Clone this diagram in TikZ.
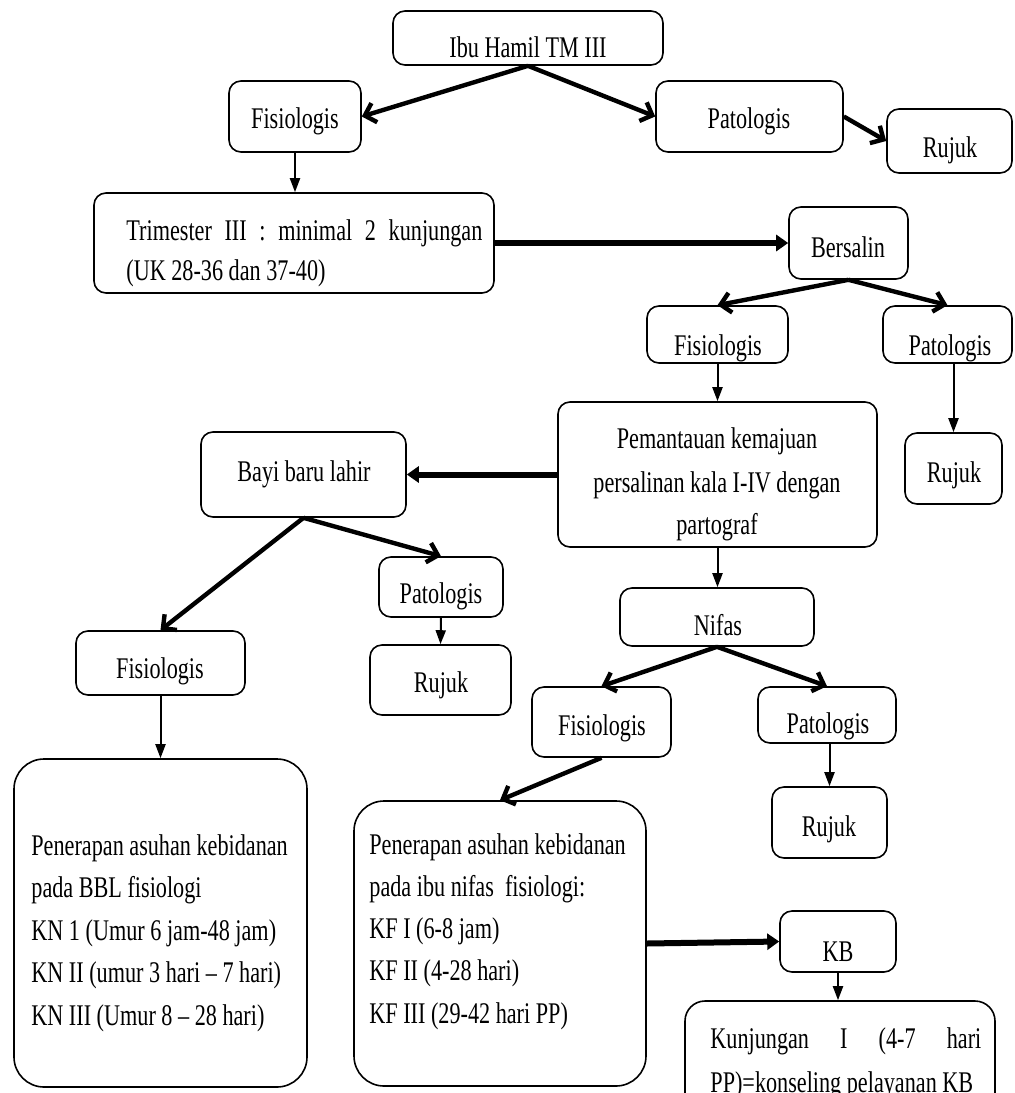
\documentclass[tikz,border=0pt]{standalone}
\usepackage{fontspec}
\setmainfont{Liberation Serif}[FakeStretch=0.74]
\usetikzlibrary{arrows.meta,fit}
\begin{document}
\begin{tikzpicture}[x=0.5pt,y=-0.5pt,
  box/.style={draw,line width=0.8pt,rounded corners=6pt,inner sep=0pt},
  bigbox/.style={box,rounded corners=15pt},
  midbox/.style={box,rounded corners=10pt},
  txt/.style={inner sep=0pt,font=\fontsize{15}{21}\selectfont},
  diagarr/.style={line width=2.2pt,-{Straight Barb[length=5pt,width=10pt]}},
  harr/.style={line width=3pt,-{Triangle[length=6pt,width=8pt]}},
  varr/.style={line width=1pt,-{Triangle[length=7pt,width=5pt]}}]
\useasboundingbox (0,0) rectangle (1015,1093);
\clip (0,0) rectangle (1015,1093);

% boxes
\node[box,fit={(393,11) (663,65)}] (ibu) {};
\node[box,fit={(229,81) (361,152)}] (fis1) {};
\node[box,fit={(656,81) (843,152)}] (pat1) {};
\node[box,fit={(887,109) (1012,173)}] (ruj1) {};
\node[box,fit={(94,193) (494,293)}] (trim) {};
\node[box,fit={(789,207) (908,279)}] (bers) {};
\node[box,fit={(647,306) (788,363)}] (fis2) {};
\node[box,fit={(883,306) (1012,363)}] (pat2) {};
\node[box,fit={(558,402) (877,547)}] (pem) {};
\node[box,fit={(905,433) (1002,504)}] (ruj2) {};
\node[box,fit={(201,432) (406,517)}] (bayi) {};
\node[box,fit={(379,557) (503,617)}] (pat3) {};
\node[box,fit={(370,645) (511,715)}] (ruj3) {};
\node[box,fit={(76,631) (245,695)}] (fis3) {};
\node[box,fit={(620,588) (814,646)}] (nifas) {};
\node[box,fit={(532,687) (671,757)}] (fis4) {};
\node[box,fit={(758,687) (896,743)}] (pat4) {};
\node[box,fit={(772,787) (887,858)}] (ruj4) {};
\node[bigbox,fit={(14,759) (307,1087)}] (pen1) {};
\node[bigbox,fit={(354,801) (646,1086)}] (pen2) {};
\node[box,fit={(780,911) (896,972)}] (kb) {};
\node[midbox,fit={(685,1001) (995,1160)}] (kunj) {};

% texts
\node[txt,anchor=base] at (528,57) {Ibu Hamil TM III};
\node[txt,anchor=base] at (295,128) {Fisiologis};
\node[txt,anchor=base] at (749,128) {Patologis};
\node[txt,anchor=base] at (950,157) {Rujuk};
\node[txt,anchor=base west] at (126,240) {\makebox[178pt][s]{Trimester III : minimal 2 kunjungan}};
\node[txt,anchor=base west] at (126,280) {(UK 28-36 dan 37-40)};
\node[txt,anchor=base] at (848,257) {Bersalin};
\node[txt,anchor=base] at (718,355) {Fisiologis};
\node[txt,anchor=base] at (950,355) {Patologis};
\node[txt,anchor=base] at (717,448) {Pemantauan kemajuan};
\node[txt,anchor=base] at (717,492) {persalinan kala I-IV dengan};
\node[txt,anchor=base] at (717,534) {partograf};
\node[txt,anchor=base] at (954,482) {Rujuk};
\node[txt,anchor=base] at (304,481) {Bayi baru lahir};
\node[txt,anchor=base] at (441,603) {Patologis};
\node[txt,anchor=base] at (441,692) {Rujuk};
\node[txt,anchor=base] at (718,635) {Nifas};
\node[txt,anchor=base] at (160,678) {Fisiologis};
\node[txt,anchor=base] at (602,735) {Fisiologis};
\node[txt,anchor=base] at (828,733) {Patologis};
\node[txt,anchor=base] at (829,836) {Rujuk};
\node[txt,anchor=base] at (838,961) {KB};
\foreach \t [count=\i from 0] in {Penerapan asuhan kebidanan,pada BBL fisiologi,KN 1 (Umur 6 jam-48 jam),KN II (umur 3 hari – 7 hari),KN III (Umur 8 – 28 hari)}
  \node[txt,anchor=base west] at (31,855+42.5*\i) {\t};
\foreach \t [count=\i from 0] in {Penerapan asuhan kebidanan,pada ibu nifas\ \ fisiologi:,KF I (6-8 jam),KF II (4-28 hari),KF III (29-42 hari PP)}
  \node[txt,anchor=base west] at (369,854+42.3*\i) {\t};
\node[txt,anchor=base west] at (710,1048) {\makebox[135.5pt][s]{Kunjungan I (4-7 hari}};
\node[txt,anchor=base west] at (710,1092) {PP)=konseling pelayanan KB};

% connectors
\draw[diagarr] (ibu.south) -- (fis1.east);
\draw[diagarr] (ibu.south) -- (pat1.west);
\draw[diagarr] (pat1.east) -- (ruj1.west);
\draw[varr] (fis1.south) -- (fis1.south |- trim.north);
\draw[harr] (trim.east) -- (bers.west);
\draw[diagarr] (bers.south) -- (fis2.north);
\draw[diagarr] (bers.south) -- (pat2.north);
\draw[varr] (fis2.south) -- (fis2.south |- pem.north);
\draw[varr] (ruj2.north |- pat2.south) -- (ruj2.north);
\draw[harr] (pem.west) -- (bayi.east);
\draw[diagarr] (bayi.south) -- (fis3.north);
\draw[diagarr] (bayi.south) -- (pat3.north);
\draw[varr] (pat3.south) -- (ruj3.north);
\draw[varr] (fis3.south) -- (pen1.north);
\draw[varr] (pem.south) -- (pem.south |- nifas.north);
\draw[diagarr] (nifas.south) -- (fis4.north);
\draw[diagarr] (nifas.south) -- (pat4.north);
\draw[varr] (ruj4.north |- pat4.south) -- (ruj4.north);
\draw[diagarr] (fis4.south) -- (pen2.north);
\draw[harr] (pen2.east) -- (kb.west);
\draw[varr] (kb.south) -- (kb.south |- kunj.north);
\end{tikzpicture}
\end{document}
